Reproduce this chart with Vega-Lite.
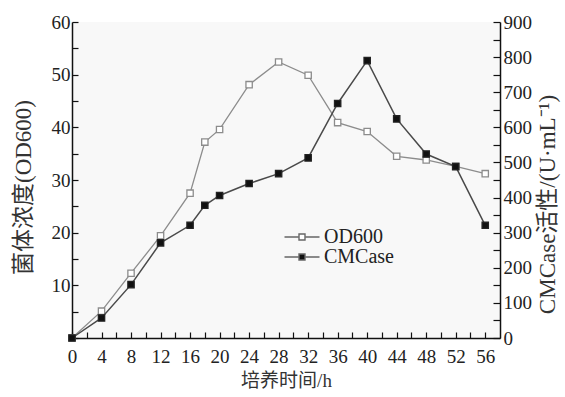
{
  "$schema": "https://vega.github.io/schema/vega-lite/v6.json",
  "width": 428,
  "height": 316,
  "autosize": {"type": "none"},
  "padding": {"left": 72, "top": 22, "right": 65, "bottom": 59},
  "background": "white",
  "config": {
    "view": {"fill": "#f8f8f8", "stroke": null},
    "font": "Liberation Serif, Noto Sans CJK SC",
    "axis": {
      "domainColor": "#111",
      "domainWidth": 1.5,
      "tickColor": "#111",
      "tickWidth": 1.2,
      "labelFont": "Liberation Serif",
      "labelFontSize": 19,
      "labelColor": "#222",
      "titleFont": "Liberation Serif, Noto Sans CJK SC",
      "titleFontSize": 19,
      "titleFontWeight": "normal",
      "titleColor": "#333",
      "grid": false
    },
    "legend": {
      "labelFont": "Liberation Serif",
      "labelFontSize": 20,
      "labelColor": "#222"
    }
  },
  "data": {
    "values": [
      {"time": 0, "series": "OD600", "value": 0},
      {"time": 4, "series": "OD600", "value": 5.1},
      {"time": 8, "series": "OD600", "value": 12.3},
      {"time": 12, "series": "OD600", "value": 19.4},
      {"time": 16, "series": "OD600", "value": 27.5},
      {"time": 18, "series": "OD600", "value": 37.2},
      {"time": 20, "series": "OD600", "value": 39.6},
      {"time": 24, "series": "OD600", "value": 48.1},
      {"time": 28, "series": "OD600", "value": 52.4},
      {"time": 32, "series": "OD600", "value": 49.9},
      {"time": 36, "series": "OD600", "value": 40.9},
      {"time": 40, "series": "OD600", "value": 39.2},
      {"time": 44, "series": "OD600", "value": 34.5},
      {"time": 48, "series": "OD600", "value": 33.8},
      {"time": 52, "series": "OD600", "value": 32.6},
      {"time": 56, "series": "OD600", "value": 31.2},
      {"time": 0, "series": "CMCase", "value": 0},
      {"time": 4, "series": "CMCase", "value": 57},
      {"time": 8, "series": "CMCase", "value": 152},
      {"time": 12, "series": "CMCase", "value": 271},
      {"time": 16, "series": "CMCase", "value": 321},
      {"time": 18, "series": "CMCase", "value": 378},
      {"time": 20, "series": "CMCase", "value": 406},
      {"time": 24, "series": "CMCase", "value": 440},
      {"time": 28, "series": "CMCase", "value": 468},
      {"time": 32, "series": "CMCase", "value": 513},
      {"time": 36, "series": "CMCase", "value": 668},
      {"time": 40, "series": "CMCase", "value": 790},
      {"time": 44, "series": "CMCase", "value": 624},
      {"time": 48, "series": "CMCase", "value": 524},
      {"time": 52, "series": "CMCase", "value": 488},
      {"time": 56, "series": "CMCase", "value": 321}
    ]
  },
  "encoding": {
    "x": {
      "field": "time",
      "type": "quantitative",
      "scale": {"domain": [0, 58], "nice": false},
      "axis": {
        "title": "培养时间/h",
        "values": [0, 2, 4, 6, 8, 10, 12, 14, 16, 18, 20, 22, 24, 26, 28, 30, 32, 34, 36, 38, 40, 42, 44, 46, 48, 50, 52, 54, 56],
        "labelExpr": "datum.value % 4 === 0 ? datum.label : ''",
        "tickSize": -6,
        "labelPadding": 15,
        "titlePadding": 5,
        "labelFlush": false
      }
    }
  },
  "layer": [
    {
      "transform": [{"filter": "datum.series === 'OD600'"}],
      "encoding": {
        "y": {
          "field": "value",
          "type": "quantitative",
          "scale": {"domain": [0, 60], "nice": false},
          "axis": {
            "title": "菌体浓度(OD600)",
            "titleFontSize": 23,
            "titleY": 165,
            "orient": "left",
            "values": [0, 5, 10, 15, 20, 25, 30, 35, 40, 45, 50, 55, 60],
            "labelExpr": "datum.value % 10 === 0 && datum.value > 0 ? datum.label : ''",
            "tickSize": -6,
            "labelPadding": 8,
            "titlePadding": 16
          }
        }
      },
      "layer": [
        {
          "mark": {"type": "line", "strokeWidth": 1.3, "stroke": "#8c8c8c"}
        },
        {
          "mark": {"type": "point", "shape": "square", "size": 40, "strokeWidth": 1.3, "filled": true, "opacity": 1, "stroke": "#8c8c8c"},
          "encoding": {
            "color": {"field": "series", "type": "nominal", "scale": {"domain": ["OD600", "CMCase"], "range": ["#ffffff", "#111111"]},
              "legend": {"orient": "none", "legendX": 220, "legendY": 205, "title": null, "symbolType": "M-3.5,0H-0.75M0.75,0H3.5M-0.6,-0.6H0.6V0.6H-0.6Z", "symbolSize": 100, "symbolStrokeWidth": 1.4, "symbolStrokeColor": "#666", "labelOffset": 12, "rowPadding": 0}}
          }
        }
      ]
    },
    {
      "transform": [{"filter": "datum.series === 'CMCase'"}],
      "encoding": {
        "y": {
          "field": "value",
          "type": "quantitative",
          "scale": {"domain": [0, 900], "nice": false},
          "axis": {
            "title": "CMCase活性/(U·mL⁻¹)",
            "titleFontSize": 23,
            "titleY": 182,
            "orient": "right",
            "values": [0, 50, 100, 150, 200, 250, 300, 350, 400, 450, 500, 550, 600, 650, 700, 750, 800, 850, 900],
            "labelExpr": "datum.value % 100 === 0 ? datum.label : ''",
            "tickSize": -7,
            "labelPadding": 10,
            "titleAngle": 270,
            "titleBaseline": "top",
            "titlePadding": 5
          }
        }
      },
      "layer": [
        {
          "mark": {"type": "line", "strokeWidth": 1.5, "stroke": "#4a4a4a"}
        },
        {
          "mark": {"type": "point", "shape": "square", "size": 40, "strokeWidth": 1.3, "filled": true, "opacity": 1, "stroke": "#222222"},
          "encoding": {
            "color": {"field": "series", "type": "nominal", "scale": {"domain": ["OD600", "CMCase"], "range": ["#ffffff", "#111111"]},
              "legend": {"orient": "none", "legendX": 220, "legendY": 205, "title": null, "symbolType": "M-3.5,0H-0.75M0.75,0H3.5M-0.6,-0.6H0.6V0.6H-0.6Z", "symbolSize": 100, "symbolStrokeWidth": 1.4, "symbolStrokeColor": "#666", "labelOffset": 12, "rowPadding": 0}}
          }
        }
      ]
    }
  ],
  "resolve": {"scale": {"y": "independent"}}
}
